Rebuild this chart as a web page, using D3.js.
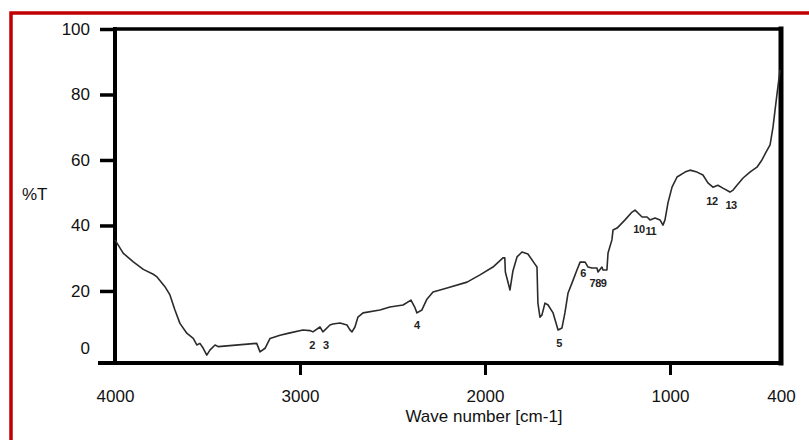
<!DOCTYPE html>
<html>
<head>
<meta charset="utf-8">
<script src="https://cdn.jsdelivr.net/npm/d3@7/dist/d3.min.js"></script>
<style>
  body { margin: 0; background: #fff; }
  svg { display: block; font-family: "Liberation Sans", Arial, sans-serif; }
</style>
</head>
<body>
<div id="chart"></div>
<script>
// IR spectrum
var wavenumber = [4000,3955,3901,3847,3793,3775,3730,3703,3676,3649,
  3612,3577,3558,3541,3523,3504,3486,3459,3442,3234,
  3216,3189,3162,3108,3054,2984,2946,2930,2892,2876,
  2838,2822,2784,2746,2730,2719,2703,2687,2659,2568,
  2514,2443,2400,2378,2368,2341,2314,2281,2205,2097,
  2027,1957,1903,1893,1890,1865,1849,1827,1800,1768,
  1730,1719,1714,1703,1692,1676,1659,1632,1605,1584,
  1568,1551,1530,1503,1486,1459,1443,1422,1395,1389,
  1368,1362,1341,1335,1314,1308,1286,1243,1205,1189,
  1173,1151,1124,1108,1081,1054,1038,1027,1011,989,
  962,919,892,854,822,795,768,741,714,676,
  659,638,605,568,530,503,481,459,443,432,
  421,405];
var transmittance = [35.6,31.5,28.9,26.6,25.1,24.4,21.3,18.8,14.2,10.1,
  7.1,5.5,3.5,4.0,2.5,0.4,2.0,3.5,3.0,4.0,
  1.4,2.5,5.5,6.5,7.2,8.1,7.9,7.5,9.0,7.5,
  9.6,9.9,10.2,9.6,8.1,7.5,9.0,12.0,13.3,14.2,
  15.1,15.7,17.2,14.8,13.3,14.2,17.5,19.7,20.9,22.7,
  24.9,27.3,30.1,30.1,25.8,20.3,26.1,30.4,31.9,31.3,
  28.2,27.3,16.3,12.0,12.7,16.3,15.7,13.3,8.1,8.7,
  13.3,19.4,22.4,26.4,28.8,28.8,27.3,27.0,27.0,25.8,
  27.3,26.4,26.4,31.6,35.6,38.6,39.2,41.7,44.1,44.7,
  43.8,42.6,42.6,41.7,42.3,41.7,40.1,41.7,46.9,51.7,
  54.8,56.3,56.9,56.3,55.4,53.0,51.7,52.3,51.4,50.2,
  50.8,52.3,54.5,56.3,57.8,60.0,62.4,64.6,70.1,75.3,
  80.4,87.5];

// peak numbers: text, wavenumber and %T where the text sits
var peakLabels = ["2","3","4","5","6","789","10","11","12","13"];
var peakWn     = [2935,2860,2368,1600,1470,1389,1168,1104,773,670];
var peakT      = [2.3,2.3,8.4,2.9,24.3,21.2,37.7,37.1,46.2,45.0];

var xTicks = [4000,3000,2000,1000,400];
var yTicks = [0,20,40,60,80,100];

var width = 809, height = 440;
var svg = d3.select('#chart').append('svg')
  .attr('width', width)
  .attr('height', height);

// red frame round the figure (runs off the right and bottom edge)
svg.append('rect')
  .attr('x', 11).attr('y', 13)
  .attr('width', 820).attr('height', 460)
  .attr('fill', 'none')
  .attr('stroke', '#c00000')
  .attr('stroke-width', 3.5);

var x = d3.scaleLinear().domain([4000, 400]).range([115, 781]);
var y = d3.scaleLinear().domain([-2, 100]).range([363, 29]);

// y axis
var yAxis = svg.append('g')
  .attr('transform', 'translate(' + x(4000) + ',0)')
  .call(d3.axisLeft(y).tickValues(yTicks).tickSize(15).tickPadding(10));
yAxis.select('.domain').remove();
yAxis.selectAll('.tick line').attr('stroke', '#000').attr('stroke-width', 3.5)
  .filter(function(d) { return d === 0; }).remove();
yAxis.selectAll('.tick text')
  .attr('font-size', 17).attr('fill', '#111')
  .attr('font-family', '"Liberation Sans", Arial, sans-serif')
  .filter(function(d) { return d === 0; }).attr('dy', '-0.2em');

// x axis
var xAxis = svg.append('g')
  .attr('transform', 'translate(0,' + y(-2) + ')')
  .call(d3.axisBottom(x).tickValues(xTicks).tickFormat(d3.format('d'))
    .tickSize(12).tickPadding(15));
xAxis.select('.domain').remove();
xAxis.selectAll('.tick line').attr('stroke', '#000').attr('stroke-width', 3)
  .filter(function(d) { return d === 4000 || d === 400; }).remove();
xAxis.selectAll('.tick text')
  .attr('font-size', 17).attr('fill', '#111')
  .attr('font-family', '"Liberation Sans", Arial, sans-serif');

// box
var frame = svg.append('g').attr('stroke', '#000').attr('stroke-linecap', 'square');
frame.append('line')
  .attr('x1', 100).attr('x2', x(400)).attr('y1', y(-2)).attr('y2', y(-2))
  .attr('stroke-width', 4);
frame.append('line')
  .attr('x1', x(4000)).attr('x2', x(4000)).attr('y1', y(100)).attr('y2', y(-2))
  .attr('stroke-width', 4);
frame.append('line')
  .attr('x1', x(4000)).attr('x2', x(400)).attr('y1', y(100)).attr('y2', y(100))
  .attr('stroke-width', 3.5);
frame.append('line')
  .attr('x1', x(400)).attr('x2', x(400)).attr('y1', y(100)).attr('y2', y(-2))
  .attr('stroke-width', 5);

// spectrum
var points = wavenumber.map(function(w, i) { return [w, transmittance[i]]; });
var line = d3.line()
  .x(function(d) { return x(d[0]); })
  .y(function(d) { return y(d[1]); });
svg.append('path')
  .datum(points)
  .attr('d', line)
  .attr('fill', 'none')
  .attr('stroke', '#2b2b2b')
  .attr('stroke-width', 1.6)
  .attr('stroke-linejoin', 'round');

// peak numbers
svg.append('g').selectAll('text')
  .data(peakLabels)
  .enter()
  .append('text')
  .attr('x', function(d, i) { return x(peakWn[i]); })
  .attr('y', function(d, i) { return y(peakT[i]); })
  .attr('text-anchor', 'middle')
  .attr('font-size', 11)
  .attr('font-weight', 'bold')
  .attr('letter-spacing', -0.5)
  .attr('fill', '#222')
  .text(function(d) { return d; });

// axis titles
svg.append('text')
  .attr('x', 22).attr('y', 200)
  .attr('font-size', 17).attr('fill', '#111')
  .text('%T');
svg.append('text')
  .attr('x', 484).attr('y', 422)
  .attr('text-anchor', 'middle')
  .attr('font-size', 17).attr('fill', '#111')
  .text('Wave number [cm-1]');
</script>
</body>
</html>
